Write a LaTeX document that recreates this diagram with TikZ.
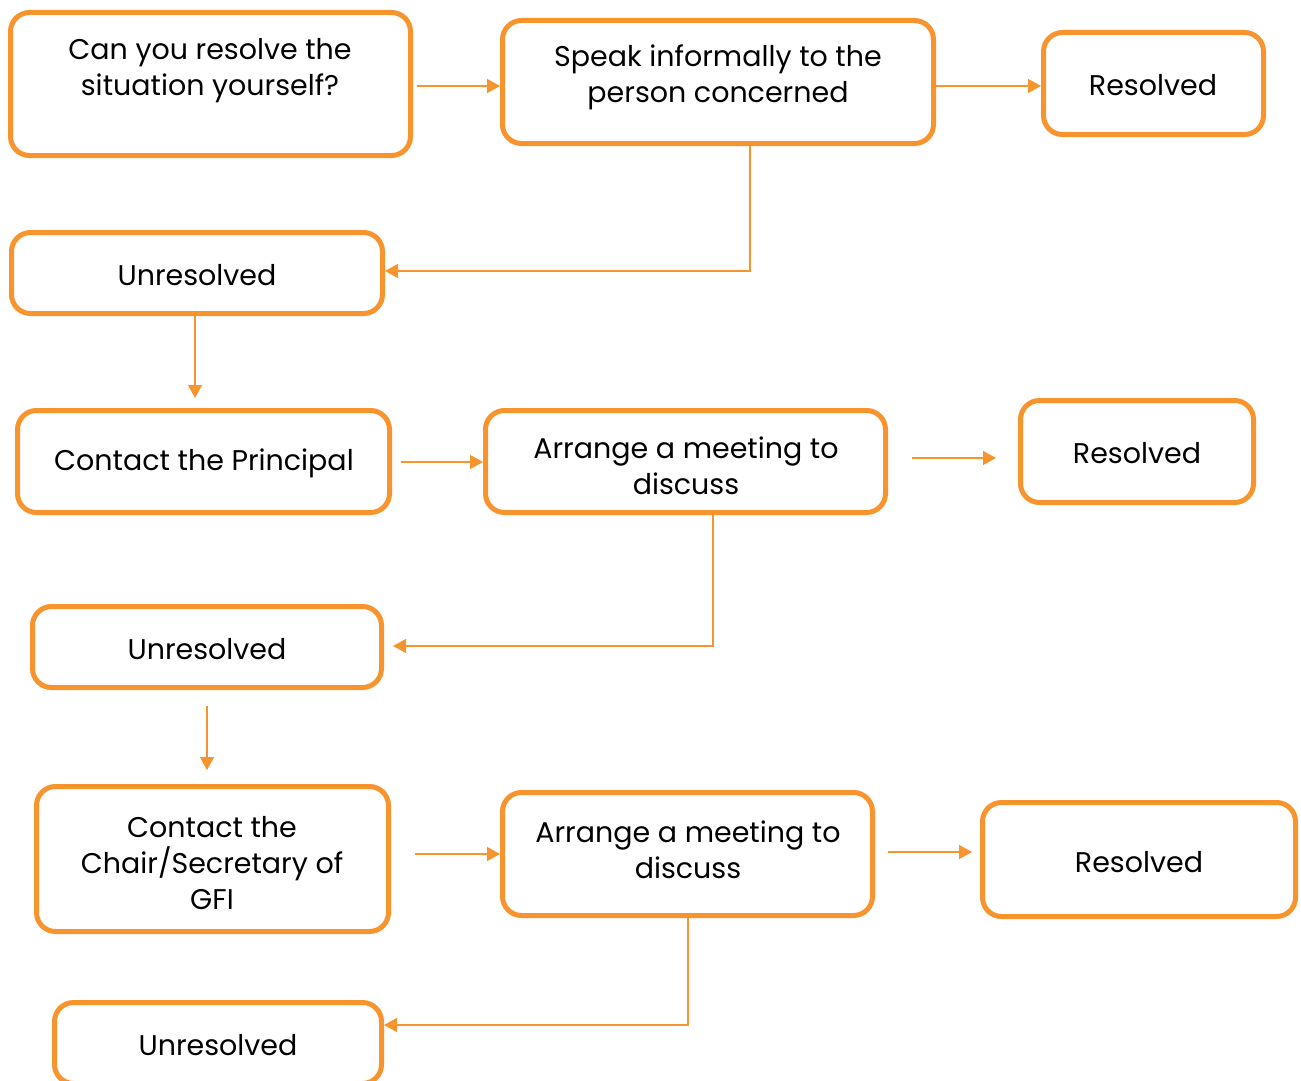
\documentclass[tikz,border=0pt]{standalone}
\usepackage{fontspec}
\setmainfont{Poppins}
\usetikzlibrary{arrows.meta}
\definecolor{flowor}{RGB}{248,148,46}
\begin{document}
\begin{tikzpicture}[x=1pt,y=-1pt,
  stepbox/.style={draw=flowor, line width=5pt, rounded corners=19pt, inner sep=0pt, fill=white},
  txt/.style={align=center, inner sep=0pt, font=\fontsize{28.5}{36}\selectfont},
  conn/.style={draw=flowor, line width=1.4pt, -{Triangle[length=13pt,width=14pt]}}]
\useasboundingbox[fill=white] (0,0) rectangle (1301,1081);

% boxes
\node[stepbox, minimum width=400pt, minimum height=143pt] (q)     at (210.5,84) {};
\node[stepbox, minimum width=431pt, minimum height=123pt] (speak) at (718,82) {};
\node[stepbox, minimum width=220pt, minimum height=102pt] (r1)    at (1153.5,83.5) {};
\node[stepbox, minimum width=371pt, minimum height=81pt]  (u1)    at (197,273) {};
\node[stepbox, minimum width=372pt, minimum height=102pt] (cp)    at (203.5,461.5) {};
\node[stepbox, minimum width=400pt, minimum height=102pt] (a1)    at (685.5,461.5) {};
\node[stepbox, minimum width=233pt, minimum height=102pt] (r2)    at (1137,451.5) {};
\node[stepbox, minimum width=349pt, minimum height=81pt]  (u2)    at (207,647) {};
\node[stepbox, minimum width=352pt, minimum height=145pt] (cc)    at (212.5,859) {};
\node[stepbox, minimum width=370pt, minimum height=123pt] (a2)    at (687.5,854) {};
\node[stepbox, minimum width=313pt, minimum height=114pt] (r3)    at (1139,859.5) {};
\node[stepbox, minimum width=327pt, minimum height=81pt]  (u3)    at (218,1043) {};

% labels
\node[txt] (qt)  at (210,71)   {Can you resolve the\\situation yourself?};
\node[txt] (st)  at (718,77.5) {Speak informally to the\\person concerned};
\node[txt] (r1t) at (1153,85)  {Resolved};
\node[txt] (u1t) at (197,275)  {Unresolved};
\node[txt] (cpt) at (204,463)  {Contact the Principal};
\node[txt] (a1t) at (686,466)  {Arrange a meeting to\\discuss};
\node[txt] (r2t) at (1137,453) {Resolved};
\node[txt] (u2t) at (207,649)  {Unresolved};
\node[txt] (cct) at (212,863)  {Contact the\\Chair/Secretary of\\GFI};
\node[txt] (a2t) at (688,850)  {Arrange a meeting to\\discuss};
\node[txt] (r3t) at (1139,862) {Resolved};
\node[txt] (u3t) at (218,1045) {Unresolved};

% free ends of connectors
\coordinate (c1) at (417,86);
\coordinate (c2) at (195,398);
\coordinate (c3) at (401,462);
\coordinate (c4a) at (912,458);
\coordinate (c4b) at (996,458);
\coordinate (c5) at (393,646);
\coordinate (c6a) at (207,706);
\coordinate (c6b) at (207,770);
\coordinate (c7) at (415,854);
\coordinate (c8a) at (888,852);
\coordinate (c8b) at (972,852);

% connectors
\draw[conn] (c1) -- (speak.west |- c1);
\draw[conn] (speak.east |- 0,86) -- (r1.west |- 0,86);
\draw[conn] (speak.south -| 750,0) |- (u1.east |- 0,271);
\draw[conn] (u1.south -| c2) -- (c2);
\draw[conn] (c3) -- (a1.west |- c3);
\draw[conn] (c4a) -- (c4b);
\draw[conn] (a1.south -| 713,0) |- (c5);
\draw[conn] (c6a) -- (c6b);
\draw[conn] (c7) -- (a2.west |- c7);
\draw[conn] (c8a) -- (c8b);
\draw[conn] (a2.south -| 688,0) |- (u3.east |- 0,1025);
\end{tikzpicture}
\end{document}
